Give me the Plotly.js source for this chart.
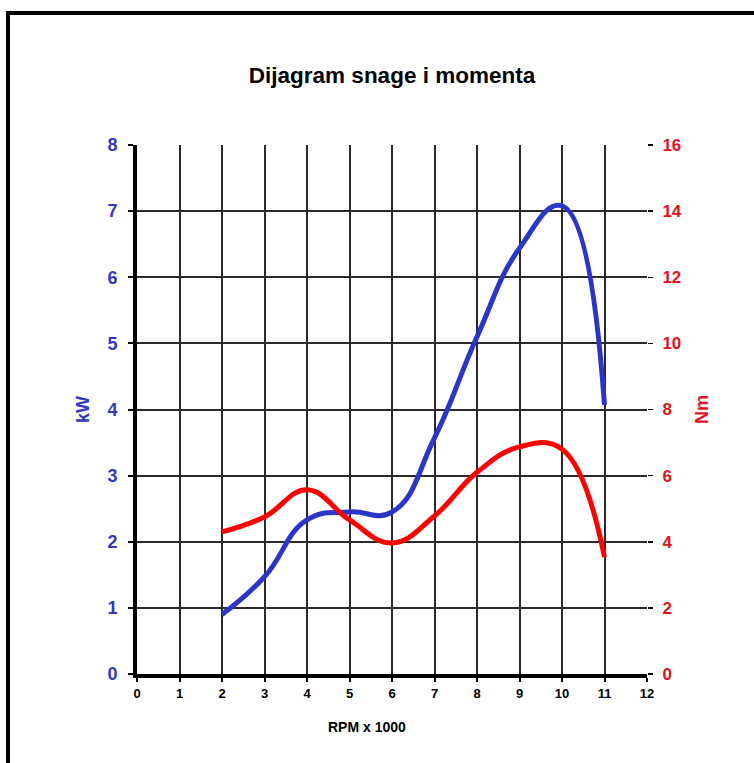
<!DOCTYPE html>
<html>
<head>
<meta charset="utf-8">
<script src="https://cdn.plot.ly/plotly-3.0.1.min.js"></script>
<style>
  html, body { margin: 0; padding: 0; background: #fff; overflow: hidden; }
  #wrap { position: relative; width: 754px; height: 763px; }
  #frame { position: absolute; left: 6px; top: 11px; width: 800px; height: 748px;
           border-left: 4px solid #000; border-top: 4px solid #000; border-bottom: 1px solid #ddd;
           pointer-events: none; z-index: 5; }
  #chart { position: absolute; left: 0; top: 0; width: 754px; height: 763px; }
</style>
</head>
<body>
<div id="wrap">
  <div id="chart"></div>
  <div id="frame"></div>
</div>
<script>
const rpm = [2, 3, 4, 5, 6, 7, 8, 9, 10, 11];
const powerKw = [0.9, 1.47, 2.33, 2.45, 2.45, 3.57, 5.1, 6.44, 7.08, 4.07];
const torqueNm = [4.3, 4.75, 5.57, 4.66, 3.96, 4.78, 6.1, 6.87, 6.8, 3.54];
const xTicks = [0,1,2,3,4,5,6,7,8,9,10,11,12];
const kwTicks = [0,1,2,3,4,5,6,7,8];
const nmTicks = [0,2,4,6,8,10,12,14,16];

const blue = '#2b36c8';
const red = '#ff0000';
const font = 'Liberation Sans, Arial, sans-serif';
const bold = v => '<b>' + v + '</b>';

const traces = [
  { x: rpm, y: powerKw, type: 'scatter', mode: 'lines', name: 'kW',
    line: { color: blue, width: 5, shape: 'spline', smoothing: 1.3 }, yaxis: 'y', hoverinfo: 'x+y' },
  { x: rpm, y: torqueNm, type: 'scatter', mode: 'lines', name: 'Nm',
    line: { color: red, width: 5, shape: 'spline', smoothing: 1.2 }, yaxis: 'y2', hoverinfo: 'x+y' }
];

const layout = {
  width: 754, height: 763,
  margin: { l: 137, r: 107, t: 145, b: 89 },
  paper_bgcolor: '#fff', plot_bgcolor: '#fff',
  showlegend: false,
  font: { family: font },
  title: { text: bold('Dijagram snage i momenta'), font: { family: font, size: 22.5, color: '#000', weight: 'bold' },
           x: 392/754, xref: 'container', xanchor: 'center', y: 1 - 75/763, yref: 'container', yanchor: 'middle' },
  xaxis: {
    range: [0, 12], tickvals: xTicks, ticktext: xTicks.map(bold),
    showgrid: true, gridcolor: '#2a2a2a', gridwidth: 2,
    showline: true, linecolor: '#000', linewidth: 4,
    ticks: 'outside', ticklen: 4, tickwidth: 2, tickcolor: '#000',
    tickfont: { family: font, size: 13, color: '#000', weight: 'bold' },
    zeroline: false, fixedrange: true
  },
  yaxis: {
    range: [0, 8], tickvals: kwTicks, ticktext: kwTicks.map(bold),
    showgrid: true, gridcolor: '#2a2a2a', gridwidth: 2,
    showline: true, linecolor: '#000', linewidth: 4,
    ticks: 'outside', ticklen: 5, tickwidth: 2, tickcolor: '#000',
    ticklabelstandoff: 7,
    tickfont: { family: font, size: 18, color: '#3138c4', weight: 'bold' },
    title: { text: bold('kW'), font: { family: font, size: 18, color: '#3138c4', weight: 'bold' }, standoff: 14 },
    zeroline: false, fixedrange: true
  },
  yaxis2: {
    range: [0, 16], tickvals: nmTicks, ticktext: nmTicks.map(bold),
    overlaying: 'y', side: 'right',
    showgrid: false, showline: false,
    ticks: 'outside', ticklen: 5, tickwidth: 1.5, tickcolor: '#000',
    ticklabelstandoff: 6,
    tickfont: { family: font, size: 17, color: '#e3121c', weight: 'bold' },
    title: { text: bold('Nm'), font: { family: font, size: 18, color: '#e3121c', weight: 'bold' }, standoff: 14 },
    zeroline: false, fixedrange: true
  },
  annotations: [
    { text: bold('RPM x 1000'), xref: 'paper', yref: 'paper', x: (367-137)/510, y: -(727-674)/529,
      xanchor: 'center', yanchor: 'middle', showarrow: false,
      font: { family: font, size: 14, color: '#000', weight: 'bold' } }
  ]
};

Plotly.newPlot('chart', traces, layout, { displayModeBar: false, staticPlot: true });
</script>
</body>
</html>
